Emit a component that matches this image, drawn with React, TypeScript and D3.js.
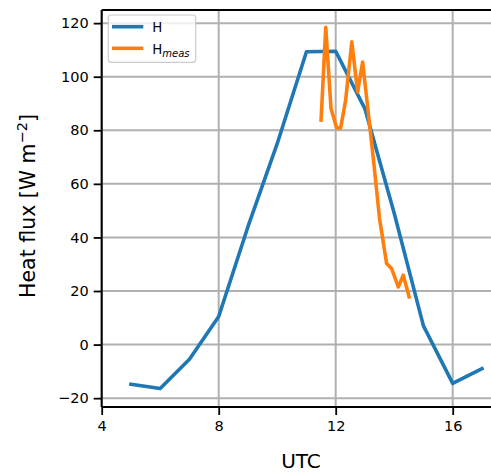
import { useEffect, useRef } from 'react';
import * as d3 from 'd3';

// modelled H (hourly) and measured H
const hours = [5, 6, 7, 8, 9, 10, 11, 12, 13, 14, 15, 16, 17];
const hValues = [-14.8, -16.4, -5.5, 10.5, 44, 75, 109.3, 109.5, 88, 49, 7, -14.5, -9];
const measTimes = [11.5, 11.66, 11.84, 12.03, 12.17, 12.34, 12.55, 12.75, 12.92, 13.1, 13.3, 13.5, 13.74, 13.91, 14.14, 14.31, 14.51];
const measValues = [83.8, 118.4, 88.1, 80.9, 80.9, 91.2, 113, 94.3, 105.5, 88, 68, 47, 30.3, 28.4, 21.5, 25.9, 17.8];
const xTicks = [4, 8, 12, 16];
const yTicks = [-20, 0, 20, 40, 60, 80, 100, 120];

const W = 491;
const H = 472;
const left = 101.7;
const top = 10;
const bottom = 407;
const FONT = 'DejaVu Sans, sans-serif';

export default function App() {
  const svgRef = useRef<SVGSVGElement>(null);

  useEffect(() => {
    const svg = d3.select(svgRef.current);
    svg.selectAll('*').remove();

    const x = d3.scaleLinear().domain([4, 17.6]).range([left, 499.5]);
    const y = d3.scaleLinear().domain([-23.3, 124.9]).range([bottom, top]);

    svg.append('defs').append('clipPath').attr('id', 'plot')
      .append('rect').attr('x', left).attr('y', top).attr('width', W - left).attr('height', bottom - top);

    // grid
    const grid = svg.append('g');
    grid.selectAll('.gx').data(xTicks).join('line')
      .attr('x1', d => x(d)).attr('x2', d => x(d))
      .attr('y1', top).attr('y2', bottom)
      .attr('stroke', '#b0b0b0').attr('stroke-width', 2);
    grid.selectAll('.gy').data(yTicks).join('line')
      .attr('x1', left).attr('x2', W)
      .attr('y1', d => y(d)).attr('y2', d => y(d))
      .attr('stroke', '#b0b0b0').attr('stroke-width', 2);

    // lines
    const line = d3.line<[number, number]>().x(d => x(d[0])).y(d => y(d[1]));
    const plot = svg.append('g').attr('clip-path', 'url(#plot)');
    plot.append('path')
      .attr('d', line(hours.map((h, i) => [h, hValues[i]])))
      .attr('fill', 'none').attr('stroke', '#1f77b4').attr('stroke-width', 3.6)
      .attr('stroke-linejoin', 'round').attr('stroke-linecap', 'square');
    plot.append('path')
      .attr('d', line(measTimes.map((t, i) => [t, measValues[i]])))
      .attr('fill', 'none').attr('stroke', '#ff7f0e').attr('stroke-width', 3.6)
      .attr('stroke-linejoin', 'round').attr('stroke-linecap', 'square');

    // axes
    const fmt = (d: number) => (d < 0 ? `\u2212${Math.abs(d)}` : `${d}`);
    const yAxis = d3.axisLeft(y).tickValues(yTicks).tickFormat(d => fmt(+d)).tickSize(8).tickPadding(5);
    const xAxis = d3.axisBottom(x).tickValues(xTicks).tickFormat(d => fmt(+d)).tickSize(8).tickPadding(6);
    const gy = svg.append('g').attr('transform', `translate(${left},0)`).call(yAxis);
    const gx = svg.append('g').attr('transform', `translate(0,${bottom})`).call(xAxis);
    [gx, gy].forEach(g => {
      g.select('.domain').remove();
      g.selectAll('line').attr('stroke', '#000').attr('stroke-width', 1.8);
      g.selectAll('text').attr('font-family', FONT).attr('font-size', 14.5).attr('fill', '#000');
    });

    // spines
    svg.append('line').attr('x1', left).attr('x2', left).attr('y1', top).attr('y2', bottom)
      .attr('stroke', '#000').attr('stroke-width', 2);
    svg.append('line').attr('x1', left).attr('x2', W).attr('y1', bottom).attr('y2', bottom)
      .attr('stroke', '#000').attr('stroke-width', 2);
    svg.append('line').attr('x1', left).attr('x2', W).attr('y1', top).attr('y2', top)
      .attr('stroke', '#000').attr('stroke-width', 2);

    // axis labels
    svg.append('text').attr('x', 301).attr('y', 468)
      .attr('text-anchor', 'middle').attr('font-family', FONT).attr('font-size', 20)
      .text('UTC');
    const yl = svg.append('text')
      .attr('transform', `translate(35,206) rotate(-90)`)
      .attr('text-anchor', 'middle').attr('font-family', FONT).attr('font-size', 20.5);
    yl.append('tspan').text('Heat flux [W m');
    yl.append('tspan').attr('dy', -8.5).attr('font-size', 14.5).text('\u22122');
    yl.append('tspan').attr('dy', 8.5).text(']');

    // legend
    const lg = svg.append('g');
    lg.append('rect').attr('x', 108.3).attr('y', 15).attr('width', 87.4).attr('height', 47.3)
      .attr('rx', 3).attr('fill', 'rgba(255,255,255,0.8)').attr('stroke', '#cccccc').attr('stroke-width', 1.2);
    const entries = [
      { color: '#1f77b4', label: 'H', sub: '' },
      { color: '#ff7f0e', label: 'H', sub: 'meas' },
    ];
    entries.forEach((e, i) => {
      const cy = 26.7 + i * 21.6;
      lg.append('line').attr('x1', 112).attr('x2', 143.3).attr('y1', cy).attr('y2', cy)
        .attr('stroke', e.color).attr('stroke-width', 3.6);
      const t = lg.append('text').attr('x', 152.3).attr('y', cy + 5.3)
        .attr('font-family', FONT).attr('font-size', 13.3).attr('fill', '#000');
      t.append('tspan').text(e.label);
      if (e.sub) {
        t.append('tspan').attr('dy', 3).attr('font-size', 10).attr('font-style', 'italic').text(e.sub);
      }
    });
  }, []);

  return (
    <svg ref={svgRef} width={W} height={H}
      style={{ position: 'absolute', left: 0, top: 0, background: '#fff' }} />
  );
}
